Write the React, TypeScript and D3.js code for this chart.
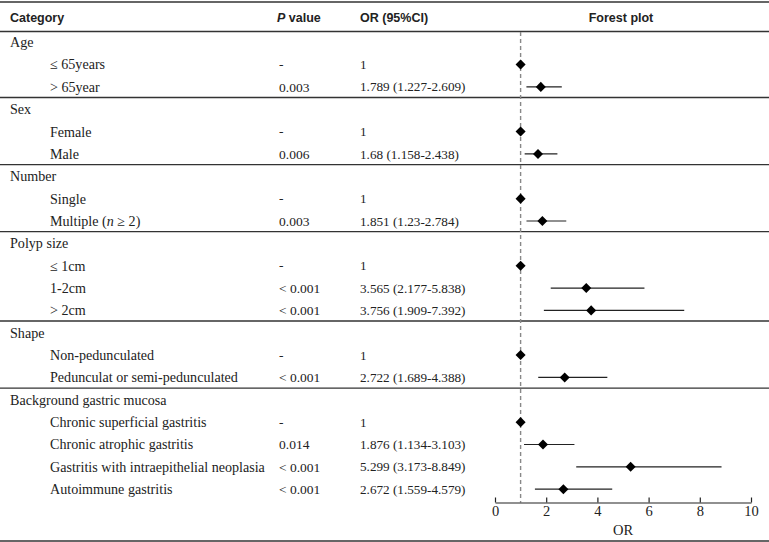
import React, { useRef, useEffect } from 'react';
import * as d3 from 'd3';

// rows of the table, in order: group headers have level 0
const labels = [
  'Age', '≤ 65years', '> 65year',
  'Sex', 'Female', 'Male',
  'Number', 'Single', 'Multiple (n ≥ 2)',
  'Polyp size', '≤ 1cm', '1-2cm', '> 2cm',
  'Shape', 'Non-pedunculated', 'Pedunculat or semi-pedunculated',
  'Background gastric mucosa', 'Chronic superficial gastritis', 'Chronic atrophic gastritis',
  'Gastritis with intraepithelial neoplasia', 'Autoimmune gastritis',
];
const levels = [0, 1, 1, 0, 1, 1, 0, 1, 1, 0, 1, 1, 1, 0, 1, 1, 0, 1, 1, 1, 1];
const pValues = ['', '-', '0.003', '', '-', '0.006', '', '-', '0.003', '', '-', '< 0.001', '< 0.001',
  '', '-', '< 0.001', '', '-', '0.014', '< 0.001', '< 0.001'];
const orValues = [null, 1, 1.789, null, 1, 1.68, null, 1, 1.851, null, 1, 3.565, 3.756,
  null, 1, 2.722, null, 1, 1.876, 5.299, 2.672];
const ciLow = [null, null, 1.227, null, null, 1.158, null, null, 1.23, null, null, 2.177, 1.909,
  null, null, 1.689, null, null, 1.134, 3.173, 1.559];
const ciHigh = [null, null, 2.609, null, null, 2.438, null, null, 2.784, null, null, 5.838, 7.392,
  null, null, 4.388, null, null, 3.103, 8.849, 4.579];
const orTicks = [0, 2, 4, 6, 8, 10];

const serif = '"Liberation Serif", serif';
const sans = '"Liberation Sans", Arial, sans-serif';

const App = () => {
  const svgRef = useRef(null);

  useEffect(() => {
    const svg = d3.select(svgRef.current);
    svg.selectAll('*').remove();

    const width = 769;
    const height = 542;

    const y = d3.scaleBand()
      .domain(d3.range(labels.length))
      .range([31, 31 + 22.35 * labels.length]);
    const yc = (i) => y(i) + y.bandwidth() / 2;

    const x = d3.scaleLinear().domain([0, 10]).range([495, 751]);
    const axisY = 502.5;

    // header
    const head = svg.append('g')
      .attr('font-family', sans)
      .attr('font-weight', 'bold')
      .attr('font-size', 12.5)
      .attr('fill', '#222');
    head.append('text').attr('x', 10).attr('y', 21.5).text('Category');
    const pv = head.append('text').attr('x', 277).attr('y', 21.5);
    pv.append('tspan').attr('font-style', 'italic').text('P');
    pv.append('tspan').text(' value');
    head.append('text').attr('x', 360).attr('y', 21.5).text('OR (95%CI)');
    head.append('text').attr('x', 621).attr('y', 21.5).attr('text-anchor', 'middle').text('Forest plot');

    // horizontal rules
    const groupStarts = levels.map((l, i) => (l === 0 ? i : -1)).filter(i => i > 0);
    const rules = [
      { y: 2, w: 1.6 },
      { y: 31.5, w: 1.4 },
      ...groupStarts.map(i => ({ y: y(i) - 0.5, w: 1.4 })),
      { y: 541, w: 1.6 },
    ];
    svg.append('g').selectAll('line')
      .data(rules)
      .join('line')
      .attr('x1', 0).attr('x2', width)
      .attr('y1', d => d.y).attr('y2', d => d.y)
      .attr('stroke', '#333')
      .attr('stroke-width', d => d.w);

    // table text
    const body = svg.append('g')
      .attr('font-family', serif)
      .attr('font-size', 14.1)
      .attr('fill', '#222');

    labels.forEach((lab, i) => {
      const t = body.append('text')
        .attr('x', levels[i] === 0 ? 10 : 50)
        .attr('y', yc(i))
        .attr('dy', '0.35em');
      if (lab.includes('(n')) {
        t.append('tspan').text('Multiple (');
        t.append('tspan').attr('font-style', 'italic').text('n');
        t.append('tspan').text(' ≥ 2)');
      } else {
        t.text(lab);
      }
      if (pValues[i]) {
        body.append('text').attr('x', 279).attr('y', yc(i)).attr('dy', '0.35em')
          .attr('font-size', 13.5).text(pValues[i]);
      }
      if (orValues[i] != null) {
        const s = ciLow[i] == null ? '1' : `${orValues[i]} (${ciLow[i]}-${ciHigh[i]})`;
        body.append('text').attr('x', 360).attr('y', yc(i)).attr('dy', '0.35em')
          .attr('font-size', 13.2).text(s);
      }
    });

    // reference line at OR = 1
    svg.append('line')
      .attr('x1', x(1)).attr('x2', x(1))
      .attr('y1', 32).attr('y2', axisY)
      .attr('stroke', '#888')
      .attr('stroke-width', 1.4)
      .attr('stroke-dasharray', '4,3');

    const idx = d3.range(labels.length).filter(i => orValues[i] != null);

    // CI whiskers
    svg.append('g').selectAll('line')
      .data(idx.filter(i => ciLow[i] != null))
      .join('line')
      .attr('x1', i => x(ciLow[i])).attr('x2', i => x(ciHigh[i]))
      .attr('y1', i => yc(i)).attr('y2', i => yc(i))
      .attr('stroke', '#222')
      .attr('stroke-width', 1.2);

    // diamonds
    svg.append('g').selectAll('path')
      .data(idx)
      .join('path')
      .attr('transform', i => `translate(${x(orValues[i])},${yc(i)})`)
      .attr('d', d3.symbol(d3.symbolDiamond2, 64))
      .attr('fill', '#000');

    // x axis, ticks pointing up
    const axis = svg.append('g')
      .attr('transform', `translate(0,${axisY})`)
      .call(d3.axisBottom(x).tickValues(orTicks).tickSize(-5).tickSizeOuter(0).tickPadding(3));
    axis.select('.domain').attr('stroke', '#222').attr('stroke-width', 1.2);
    axis.selectAll('.tick line').attr('stroke', '#222').attr('stroke-width', 1.2);
    axis.selectAll('.tick text')
      .attr('font-family', serif)
      .attr('font-size', 14.5)
      .attr('fill', '#222')
      .attr('dy', '0.75em');

    svg.append('text')
      .attr('x', (x(0) + x(10)) / 2)
      .attr('y', 535)
      .attr('text-anchor', 'middle')
      .attr('font-family', serif)
      .attr('font-size', 14.5)
      .attr('fill', '#222')
      .text('OR');

    svg.attr('width', width).attr('height', height);
  }, []);

  return (
    <svg ref={svgRef} style={{ position: 'absolute', left: 0, top: 0, background: '#fff' }}></svg>
  );
};

export default App;
